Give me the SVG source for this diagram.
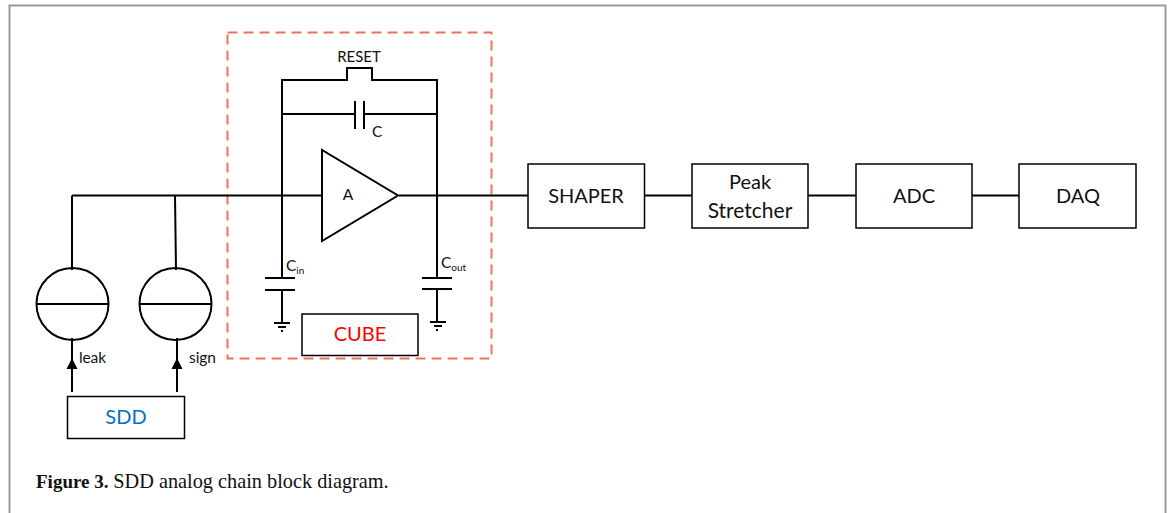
<svg xmlns="http://www.w3.org/2000/svg" width="1171" height="513" viewBox="0 0 1171 513">
<style>
.w{stroke:#000;stroke-width:2;fill:none}
.b{stroke:#000;stroke-width:1.500;fill:#fff}
.t{font-family:Lato,"Open Sans",sans-serif;font-size:20px;text-anchor:middle;fill:#111}
.s{font-family:Lato,"Open Sans",sans-serif;font-size:15.500px;fill:#111}
.sub{font-size:10px}
.cap{font-family:"Liberation Serif",serif;font-size:19px;fill:#111}
</style>
<rect width="1171" height="513" fill="#fff"/>
<path d="M9.500 513V5.500H1165.500V513" fill="none" stroke="#9a9a9a" stroke-width="2"/>
<rect id="cube-boundary" x="227.500" y="32.500" width="264" height="326" fill="none" stroke="#ee7355" stroke-width="2" stroke-dasharray="10 6"/>
<g id="connectors">
<path class="w" d="M72 195.500H322M399 195.500H528M645 195.500H692M808 195.500H856M972 195.500H1019"/>
<path class="w" d="M72 195.500V270M175 195.500L176 270M72 338V392M177 338V392"/>
<path class="w" d="M282 195.500V80H347V68H372V80H437V195.500M282 114H355M364 114H437"/>
<path class="w" d="M355 101V129M364 101V129"/>
<path class="w" d="M282 195.500V278M265 278H295M265 290H295M282 290V323M274 323H290M278 327H286M281 331H283"/>
<path class="w" d="M437 195.500V278M422 278H452M422 289H452M437 289V322M430 322H446M434 326H442M436 330H438"/>
<path d="M72 358L66.500 369H77.500Z M177 358L171.500 369H182.500Z" fill="#000"/>
</g>
<g id="amp"><path class="w" d="M322 150V241L398 195.500Z" fill="#fff"/><text class="s" x="348" y="200" text-anchor="middle">A</text></g>
<g id="leak-source"><circle class="w" cx="72.500" cy="304" r="36"/><path class="w" d="M37 304H109"/><text class="s" x="79" y="363" textLength="27">leak</text></g>
<g id="sign-source"><circle class="w" cx="175.500" cy="304" r="36"/><path class="w" d="M139 304H212"/><text class="s" x="189" y="363" textLength="27">sign</text></g>
<g id="sdd"><rect class="b" x="67.500" y="396.500" width="117" height="42"/><text class="t" x="126" y="424" style="fill:#0070c0">SDD</text></g>
<g id="cube"><rect class="b" x="302" y="314" width="116" height="41.500"/><text class="t" x="360" y="341" style="fill:#f00">CUBE</text></g>
<g id="shaper"><rect class="b" x="528" y="164" width="116.500" height="64"/><text class="t" x="586" y="203">SHAPER</text></g>
<g id="peak"><rect class="b" x="692" y="164" width="116" height="64"/><text class="t" x="750" y="189">Peak</text><text class="t" x="750" y="218" style="font-size:21px">Stretcher</text></g>
<g id="adc"><rect class="b" x="856" y="164" width="116" height="64"/><text class="t" x="914" y="203">ADC</text></g>
<g id="daq"><rect class="b" x="1019" y="164" width="117" height="64"/><text class="t" x="1078" y="203">DAQ</text></g>
<g id="labels">
<text class="s" x="359" y="62" text-anchor="middle" style="font-size:15px">RESET</text>
<text class="s" x="372" y="137">C</text>
<text class="s" x="286" y="271">C<tspan class="sub" dy="3">in</tspan></text>
<text class="s" x="441" y="268">C<tspan class="sub" dy="3">out</tspan></text>
</g>
<text class="cap" x="36" y="488"><tspan font-weight="bold">Figure 3.</tspan> <tspan style="font-size:20.300px">SDD analog chain block diagram.</tspan></text>
</svg>
